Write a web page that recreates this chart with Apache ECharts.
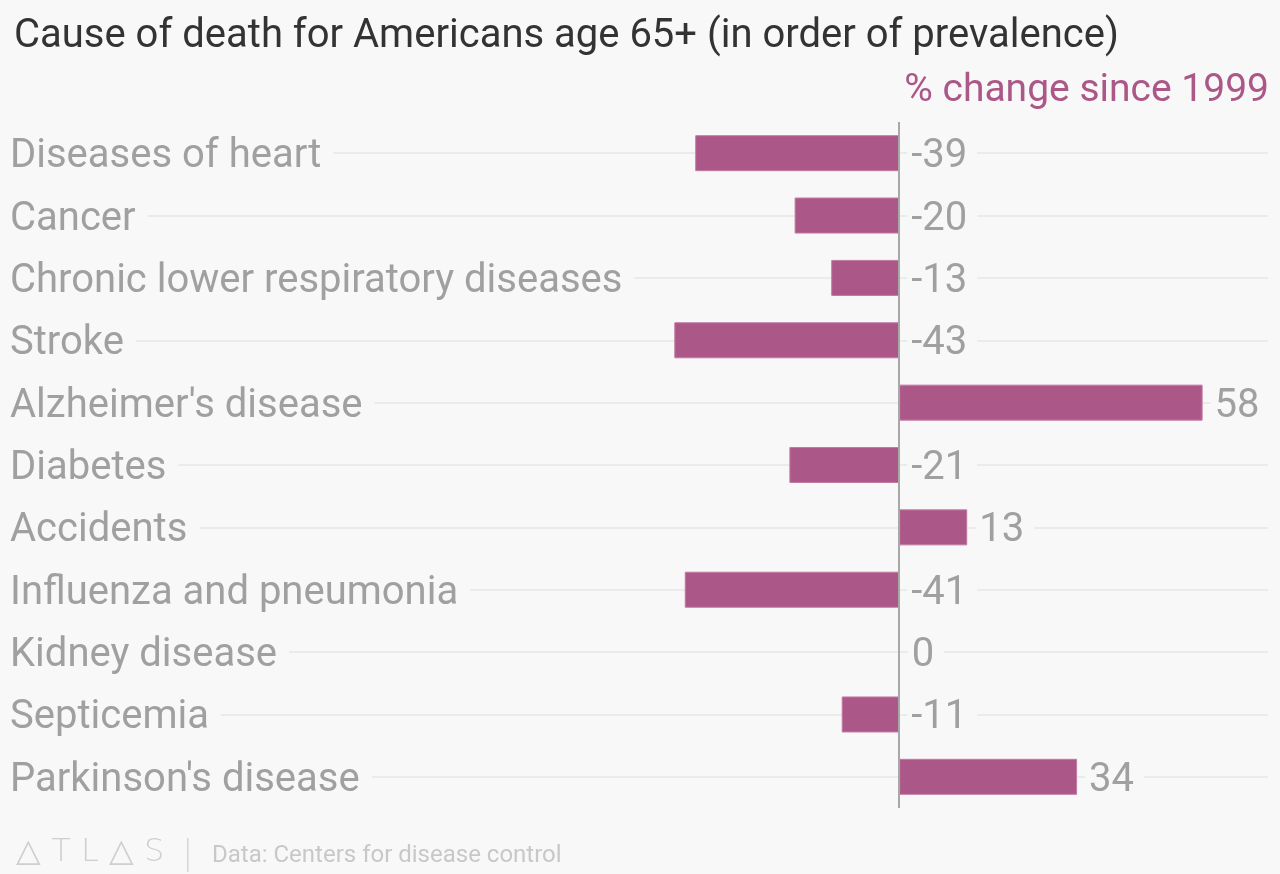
<!DOCTYPE html>
<html><head><meta charset="utf-8">
<script src="https://cdn.jsdelivr.net/npm/echarts@6/dist/echarts.min.js"></script>
<style>html,body{margin:0;padding:0;background:#f8f8f8}#c{width:1280px;height:874px}</style>
</head><body><div id="c"></div>
<script>
const categories = ["Diseases of heart","Cancer","Chronic lower respiratory diseases","Stroke","Alzheimer's disease","Diabetes","Accidents","Influenza and pneumonia","Kidney disease","Septicemia","Parkinson's disease"];
const values = [-39,-20,-13,-43,58,-21,13,-41,0,-11,34];
const titleText = "Cause of death for Americans age 65+ (in order of prevalence)";
const subtitleText = "% change since 1999";
const sourceText = "Data: Centers for disease control";

const FONT = "Roboto";
const chart = echarts.init(document.getElementById('c'));
chart.setOption({
  backgroundColor: '#f8f8f8',
  animation: false,
  title: [
    {text: titleText, left: 9, top: 12, textStyle: {fontFamily: FONT, fontSize: 40, fontWeight: 'normal', color: '#333'}},
    {text: subtitleText, right: 6, top: 67, textStyle: {fontFamily: FONT, fontSize: 39, fontWeight: 'normal', color: '#ab5787'}}
  ],
  grid: {left: 10, right: 12, top: 122, bottom: 66, containLabel: false},
  xAxis: {type: 'value', min: -170, max: 70.5, show: false},
  yAxis: {
    type: 'category', data: categories, inverse: true, z: 5,
    axisLine: {show: false}, axisTick: {show: false}, splitLine: {show: false},
    axisLabel: {inside: true, margin: 0, color: '#a0a0a0',
      backgroundColor: '#f8f8f8', padding: [0, 12, 0, 0],
      formatter: v => '{a|' + v + '}',
      rich: {a: {fontFamily: FONT, fontSize: 40, color: '#a0a0a0', padding: [8, 0, 0, 0]}}}
  },
  series: [
    {type: 'line', data: [], z: 1, silent: true,
      markLine: {silent: true, z: 0, symbol: 'none', label: {show: false},
        lineStyle: {color: '#ebebeb', width: 2, type: 'solid'},
        data: categories.map(c => ({yAxis: c}))}},
    {type: 'bar', data: values, barWidth: 36, z: 2,
      itemStyle: {color: '#ab5787', borderColor: '#c27aa3', borderWidth: 1},
      label: {show: true, position: 'right', distance: 8, offset: [0, 4], fontFamily: FONT, fontSize: 40, color: '#a0a0a0',
        backgroundColor: '#f8f8f8', padding: [0, 10, 0, 4]},
      markLine: {silent: true, z: 3, symbol: 'none', label: {show: false},
        lineStyle: {color: '#a8a8a8', width: 2, type: 'solid'},
        data: [{xAxis: 0}]}}
  ],
  graphic: [
    {type: 'text', left: 16, top: 837, style: {text: '△ T L △ S', fontFamily: 'DejaVu Sans', fontWeight: 'lighter', fontSize: 32, fill: '#cfcfcf'}},
    {type: 'rect', shape: {x: 187, y: 838, width: 1.5, height: 34}, style: {fill: '#d5d5d5'}},
    {type: 'text', left: 212, top: 844, style: {text: sourceText, fontFamily: FONT, fontSize: 24, fill: '#c8c8c8'}}
  ]
});
</script></body></html>
